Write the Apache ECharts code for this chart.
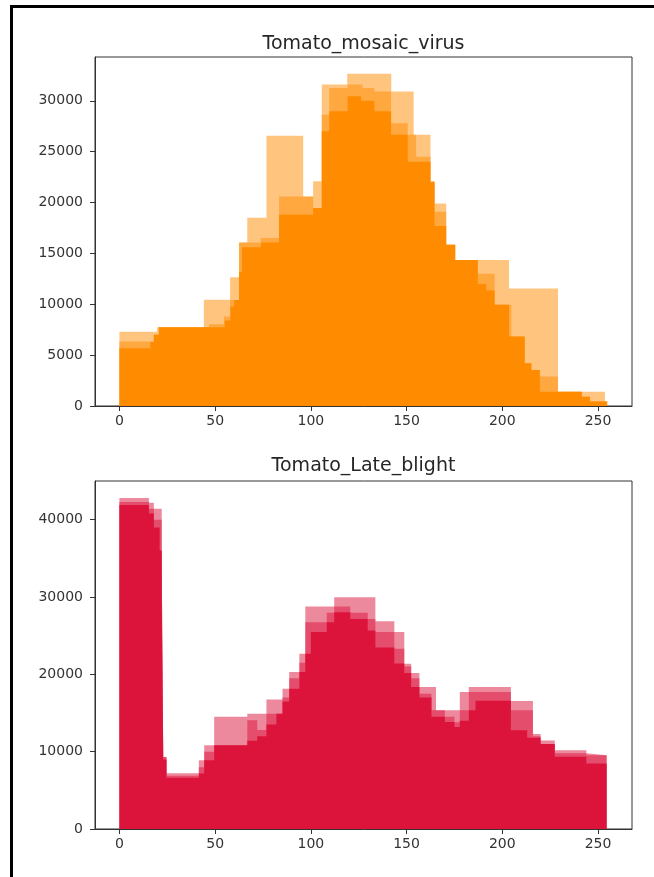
<!DOCTYPE html>
<html>
<head>
<meta charset="utf-8">
<title>Tomato histograms</title>
<script src="https://cdn.jsdelivr.net/npm/echarts@6/dist/echarts.min.js"></script>
<style>
    html, body {
        margin: 0;
        padding: 0;
        background: #fff;
    }
    #chart {
        width: 654px;
        height: 877px;
    }
</style>
</head>
<body>
<div id="chart"></div>
<script>
    // tick labels
    var xTicks = [0, 50, 100, 150, 200, 250];
    var mosaicYTicks = [0, 5000, 10000, 15000, 20000, 25000, 30000];
    var blightYTicks = [0, 10000, 20000, 30000, 40000];

    // Tomato_mosaic_virus: overlaid histograms (outer / middle / inner layer)
    var mosaicOuterEdges = [0, 19.7, 44.1, 57.8, 62.5, 66.8, 76.8, 96, 101.2, 105.7, 119, 142, 153.7, 162.5, 164.6, 170.7, 175.4, 203.5, 229.1, 253.6, 255];
    var mosaicOuterCounts = [7300, 7740, 10450, 12660, 16070, 18500, 26550, 20600, 22100, 31600, 32650, 30900, 26650, 22100, 19900, 15850, 14350, 11550, 1400, 500];

    var mosaicMiddleEdges = [0, 18, 20.6, 46.8, 54.6, 57.8, 62.5, 73.8, 83.4, 101.2, 105.7, 109.6, 119.2, 127, 133.2, 141.9, 150.6, 155, 162.5, 164.6, 170.7, 175.4, 187.2, 196, 204.7, 211.7, 215.2, 219.6, 229.1, 241.5, 245.8, 254.5];
    var mosaicMiddleCounts = [6330, 7000, 7740, 8040, 8790, 10430, 16070, 16500, 20600, 19450, 28630, 31260, 31590, 31260, 30900, 27800, 26650, 24500, 22070, 19100, 15840, 14360, 12990, 9940, 6820, 4200, 3540, 2890, 1410, 920, 430];

    var mosaicInnerEdges = [0, 16.2, 18, 20.6, 55, 58, 60, 62.5, 64, 74, 83.4, 101.2, 105.7, 109.6, 119.2, 126.2, 133.2, 141.9, 150.6, 162.5, 164.6, 170.7, 175.4, 187.2, 191.6, 196, 203.5, 211.7, 215.2, 219.6, 241.5, 245.8, 254.5];
    var mosaicInnerCounts = [5670, 6300, 7000, 7740, 8400, 9770, 10430, 13200, 15600, 16070, 18800, 19450, 27000, 28960, 30440, 30000, 28960, 26650, 24000, 22000, 17700, 15840, 14360, 12000, 11350, 9940, 6820, 4200, 3540, 1410, 920, 430];

    // Tomato_Late_blight
    var blightOuterEdges = [0, 15.4, 18, 22.1, 22.9, 24.6, 41.5, 44.3, 49.5, 66.8, 76.8, 85.2, 88.7, 94, 97.1, 112.2, 133.7, 143.6, 148.8, 152.4, 156.7, 165.4, 177.8, 182.5, 204.5, 216, 220, 227.4, 243.9, 254.5];
    var blightOuterCounts = [42800, 42200, 41400, 34700, 9300, 7200, 8900, 10830, 14500, 14900, 16730, 18150, 20300, 22660, 28770, 29980, 26880, 25460, 21370, 20170, 18360, 15350, 17720, 18360, 16560, 12300, 11460, 10190, 9550];

    var blightMiddleEdges = [0, 15.4, 18, 22.1, 22.9, 24.6, 41.5, 44.3, 49.5, 66.8, 72, 76.8, 85.2, 88.7, 94, 97.1, 108.3, 112.2, 120.6, 129.7, 133.7, 143.6, 148.8, 152.4, 156.7, 163, 170, 175, 177.8, 182.5, 204.5, 216, 220, 227.4, 243.9, 254.5];
    var blightMiddleCounts = [42300, 41400, 40000, 34700, 9300, 6900, 8000, 10000, 10830, 14060, 12800, 14900, 17000, 19500, 21500, 26750, 27960, 28770, 27960, 27140, 25460, 23300, 21000, 19500, 17500, 15350, 14500, 13800, 15350, 17700, 15350, 12000, 11000, 9800, 9550];

    var blightInnerEdges = [0, 15.4, 18, 21, 22.1, 22.9, 24.6, 41.5, 44.3, 49.5, 66.8, 72, 76.8, 82, 85.2, 88.7, 94, 97.1, 100, 108.3, 112.2, 120.6, 129.7, 133.7, 143.6, 148.8, 152.4, 156.7, 163, 170, 175, 177.8, 182.5, 186, 204.5, 213, 220, 227.4, 243.9, 254.5];
    var blightInnerCounts = [41900, 40800, 39000, 36000, 30000, 9000, 6620, 7180, 8900, 10830, 11400, 12000, 13500, 14900, 16500, 18150, 20300, 22660, 25460, 26750, 28040, 27140, 25680, 23480, 21400, 20170, 18360, 17000, 14500, 13850, 13200, 14000, 15350, 16600, 12760, 11800, 11000, 9340, 8460];

    var myChart = echarts.init(document.getElementById('chart'));
    var font = 'DejaVu Sans';

    // histogram as a stepped, filled line (one point per bin edge)
    function histSeries(idx, edges, counts, color, opacity, z) {
        var data = [];
        for (var i = 0; i < edges.length; i++) {
            data.push([edges[i], counts[Math.min(i, counts.length - 1)]]);
        }
        return {
            type: 'line',
            xAxisIndex: idx,
            yAxisIndex: idx,
            step: 'end',
            symbol: 'none',
            silent: true,
            z: z,
            lineStyle: { width: 0, opacity: 0 },
            areaStyle: { color: color, opacity: opacity },
            data: data
        };
    }

    function xAxisOf(idx) {
        return {
            type: 'value',
            gridIndex: idx,
            min: -12.75,
            max: 267.75,
            splitLine: { show: false },
            axisLine: { show: true, onZero: false, lineStyle: { color: '#333', width: 1 } },
            axisTick: { show: true, length: 5, customValues: xTicks, lineStyle: { color: '#333' } },
            axisLabel: {
                customValues: xTicks,
                margin: 8,
                color: '#333',
                fontSize: 14,
                fontFamily: font
            }
        };
    }

    function yAxisOf(idx, max, ticks) {
        return {
            type: 'value',
            gridIndex: idx,
            min: 0,
            max: max,
            splitLine: { show: false },
            axisLine: { show: true, onZero: false, lineStyle: { color: '#333', width: 1 } },
            axisTick: { show: true, length: 5, customValues: ticks, lineStyle: { color: '#333' } },
            axisLabel: {
                customValues: ticks,
                margin: 12,
                color: '#333',
                fontSize: 14,
                fontFamily: font,
                formatter: function (v) { return String(v); }
            }
        };
    }

    var option = {
        backgroundColor: '#fff',
        animation: false,
        grid: [
            { left: 95, top: 57, width: 537, height: 349, show: true, borderColor: '#333', borderWidth: 1 },
            { left: 95, top: 481, width: 537, height: 348, show: true, borderColor: '#333', borderWidth: 1 }
        ],
        xAxis: [xAxisOf(0), xAxisOf(1)],
        yAxis: [yAxisOf(0, 34300, mosaicYTicks), yAxisOf(1, 45000, blightYTicks)],
        graphic: [
            {
                type: 'text', x: 363.5, y: 44,
                style: { text: 'Tomato_mosaic_virus', fill: '#262626', font: '19px "DejaVu Sans"', textAlign: 'center', textVerticalAlign: 'middle' }
            },
            {
                type: 'text', x: 363.5, y: 466,
                style: { text: 'Tomato_Late_blight', fill: '#262626', font: '19px "DejaVu Sans"', textAlign: 'center', textVerticalAlign: 'middle' }
            },
            // frame of the screenshot
            { type: 'line', shape: { x1: 10, y1: 6.5, x2: 654, y2: 6.5 }, style: { stroke: '#000', lineWidth: 3 } },
            { type: 'line', shape: { x1: 11.5, y1: 5, x2: 11.5, y2: 877 }, style: { stroke: '#000', lineWidth: 3 } }
        ],
        series: [
            histSeries(0, mosaicOuterEdges, mosaicOuterCounts, '#FF8C00', 0.5, 1),
            histSeries(0, mosaicMiddleEdges, mosaicMiddleCounts, '#FF8C00', 0.5, 2),
            histSeries(0, mosaicInnerEdges, mosaicInnerCounts, '#FF8C00', 1, 3),
            histSeries(1, blightOuterEdges, blightOuterCounts, '#DC143C', 0.5, 1),
            histSeries(1, blightMiddleEdges, blightMiddleCounts, '#DC143C', 0.5, 2),
            histSeries(1, blightInnerEdges, blightInnerCounts, '#DC143C', 1, 3)
        ]
    };

    myChart.setOption(option);
</script>
</body>
</html>
